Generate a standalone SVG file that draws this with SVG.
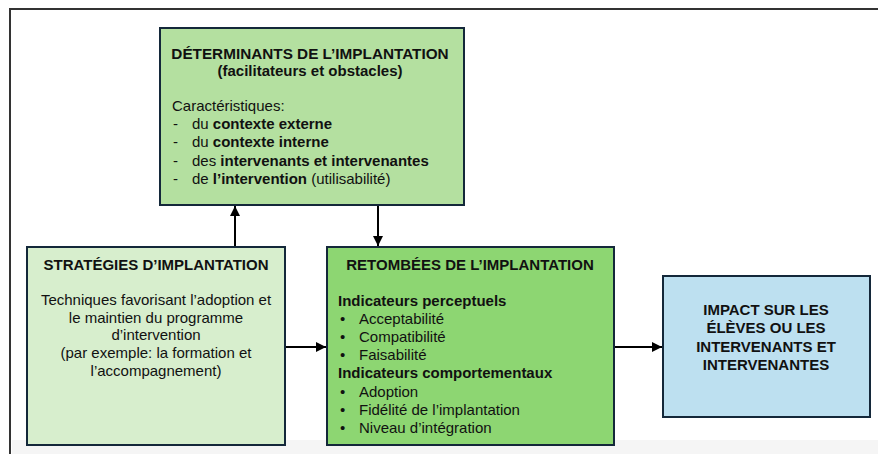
<svg xmlns="http://www.w3.org/2000/svg" width="878" height="454" viewBox="0 0 878 454">
<defs>
<style>
text{font-family:"Liberation Sans",Arial,sans-serif;font-size:15px;fill:#111}
.b{font-weight:bold}
.c{text-anchor:middle}
.t{font-size:15.3px}
.box{stroke:#14283a;stroke-width:2}
.conn{stroke:#000;stroke-width:2;fill:none}
</style>
<marker id="ah" viewBox="0 0 10 10" refX="10" refY="5" markerWidth="5" markerHeight="5" orient="auto" markerUnits="strokeWidth">
<path d="M0,0 L10,5 L0,10 z" fill="#000"/>
</marker>
</defs>
<rect x="0" y="0" width="878" height="454" fill="#fff"/>
<rect x="12" y="440" width="866" height="14" fill="#f5f5f5"/>
<path d="M10,454 V9 H878" fill="none" stroke="#333" stroke-width="2"/>

<g id="connectors">
<line class="conn" x1="235" y1="247" x2="235" y2="206" marker-end="url(#ah)"/>
<line class="conn" x1="378" y1="205" x2="378" y2="246" marker-end="url(#ah)"/>
<line class="conn" x1="285" y1="347" x2="326" y2="347" marker-end="url(#ah)"/>
<line class="conn" x1="614" y1="347" x2="662" y2="347" marker-end="url(#ah)"/>
</g>

<g id="determinants">
<rect class="box" x="160" y="28" width="304" height="177" fill="#b4e0a0"/>
<text class="b c t" x="310" y="59">DÉTERMINANTS DE L’IMPLANTATION</text>
<text class="b c" x="310" y="76">(facilitateurs et obstacles)</text>
<text x="172" y="111">Caractéristiques:</text>
<text x="173" y="129">-</text><text x="192" y="129">du <tspan class="b">contexte externe</tspan></text>
<text x="173" y="147">-</text><text x="192" y="147">du <tspan class="b">contexte interne</tspan></text>
<text x="173" y="166">-</text><text x="192" y="166">des <tspan class="b">intervenants et intervenantes</tspan></text>
<text x="173" y="184">-</text><text x="192" y="184">de <tspan class="b">l’intervention</tspan> (utilisabilité)</text>
</g>

<g id="strategies">
<rect class="box" x="27" y="247" width="258" height="198" fill="#d7eecd"/>
<text class="b c" x="156" y="270">STRATÉGIES D’IMPLANTATION</text>
<text class="c" x="156" y="305">Techniques favorisant l’adoption et</text>
<text class="c" x="156" y="323">le maintien du programme</text>
<text class="c" x="156" y="340">d’intervention</text>
<text class="c" x="156" y="358">(par exemple: la formation et</text>
<text class="c" x="156" y="376">l’accompagnement)</text>
</g>

<g id="retombees">
<rect class="box" x="327" y="247" width="287" height="198" fill="#8dd672"/>
<text class="b c" x="470" y="270">RETOMBÉES DE L’IMPLANTATION</text>
<text class="b" x="338" y="306">Indicateurs perceptuels</text>
<text x="340" y="324">•</text><text x="359" y="324">Acceptabilité</text>
<text x="340" y="342">•</text><text x="359" y="342">Compatibilité</text>
<text x="340" y="360">•</text><text x="359" y="360">Faisabilité</text>
<text class="b" x="338" y="378">Indicateurs comportementaux</text>
<text x="340" y="397">•</text><text x="359" y="397">Adoption</text>
<text x="340" y="415">•</text><text x="359" y="415">Fidélité de l’implantation</text>
<text x="340" y="433">•</text><text x="359" y="433">Niveau d’intégration</text>
</g>

<g id="impact">
<rect class="box" x="663" y="276" width="207" height="141" fill="#bde0f0"/>
<text class="b c" x="766" y="315">IMPACT SUR LES</text>
<text class="b c" x="766" y="333">ÉLÈVES OU LES</text>
<text class="b c" x="766" y="352">INTERVENANTS ET</text>
<text class="b c" x="766" y="370">INTERVENANTES</text>
</g>
</svg>
